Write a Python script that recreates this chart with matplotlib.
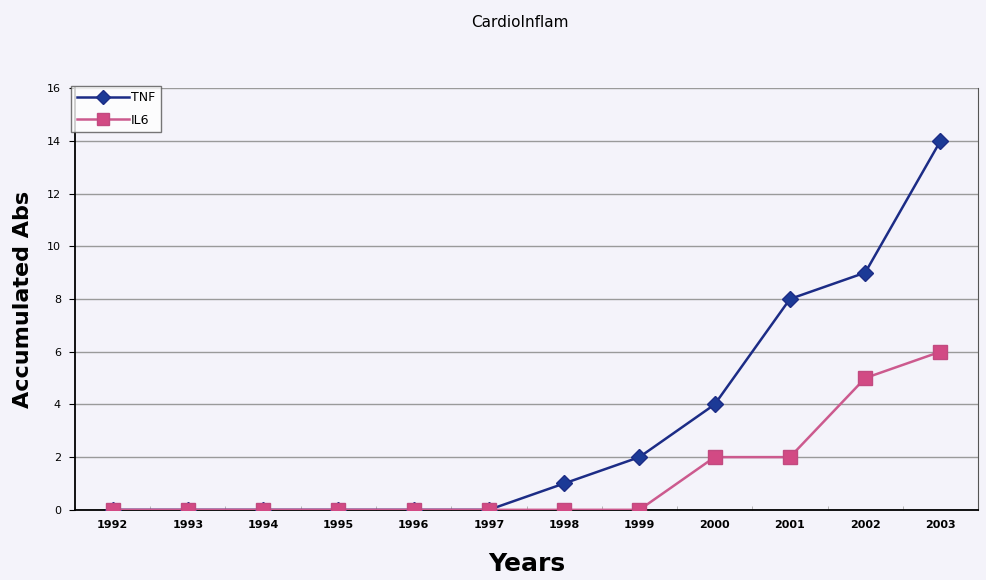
import numpy as np
import matplotlib
matplotlib.use("Agg")
import matplotlib.pyplot as plt

years = ["1992", "1993", "1994", "1995", "1996", "1997",
         "1998", "1999", "2000", "2001", "2002", "2003"]
tnf = [0, 0, 0, 0, 0, 0, 1, 2, 4, 8, 9, 14]
il6 = [0, 0, 0, 0, 0, 0, 0, 0, 2, 2, 5, 6]

bg = "#f4f3fa"
fig = plt.figure(figsize=(9.86, 5.8), dpi=100, facecolor=bg)
ax = fig.add_axes([0.076, 0.121, 0.916, 0.727], facecolor=bg)

x = np.arange(len(years)) + 0.5
ax.plot(x, tnf, color="#1c2c86", lw=1.8, marker="D", ms=8,
        mfc="#1c3a96", mec="#1c2c86", label="TNF", zorder=3)
ax.plot(x, il6, color="#cc5a8e", lw=1.8, marker="s", ms=10,
        mfc="#d24a84", mec="#c24a80", label="IL6", zorder=3)

ax.set_xlim(0, len(years))
ax.set_ylim(0, 16)
ax.set_yticks(range(0, 17, 2))
ax.grid(axis="y", color="#9a9a9a", lw=1)
ax.set_axisbelow(True)

ax.set_xticks(x)
ax.set_xticklabels(years, fontsize=8, fontweight="bold")
ax.set_xticks(np.arange(len(years) + 1), minor=True)
ax.tick_params(axis="x", which="major", length=0, pad=7)
ax.tick_params(axis="x", which="minor", length=3, direction="in", color="#aaaaaa")
ax.tick_params(axis="y", length=4, direction="out", labelsize=8, pad=6)

ax.spines["top"].set_visible(False)
ax.spines["left"].set_linewidth(1.3)
ax.spines["bottom"].set_linewidth(1.3)
ax.spines["right"].set_color("#555555")

ax.set_ylabel("Accumulated Abs", fontsize=16, fontweight="bold", labelpad=10)
ax.set_xlabel("Years", fontsize=18, fontweight="bold", labelpad=16)
fig.text(0.527, 0.962, "CardioInflam", ha="center", va="center", fontsize=11)

leg = ax.legend(loc="upper left", bbox_to_anchor=(-0.004, 1.006), fontsize=9,
                frameon=True, fancybox=False, borderpad=0.45, handlelength=4.2,
                labelspacing=0.75, handletextpad=0.1, borderaxespad=0,
                markerscale=0.85)
leg.get_frame().set_edgecolor("#555555")
leg.get_frame().set_facecolor("white")
leg.get_frame().set_linewidth(1)

fig.savefig("out.png", dpi=100, facecolor=bg)
